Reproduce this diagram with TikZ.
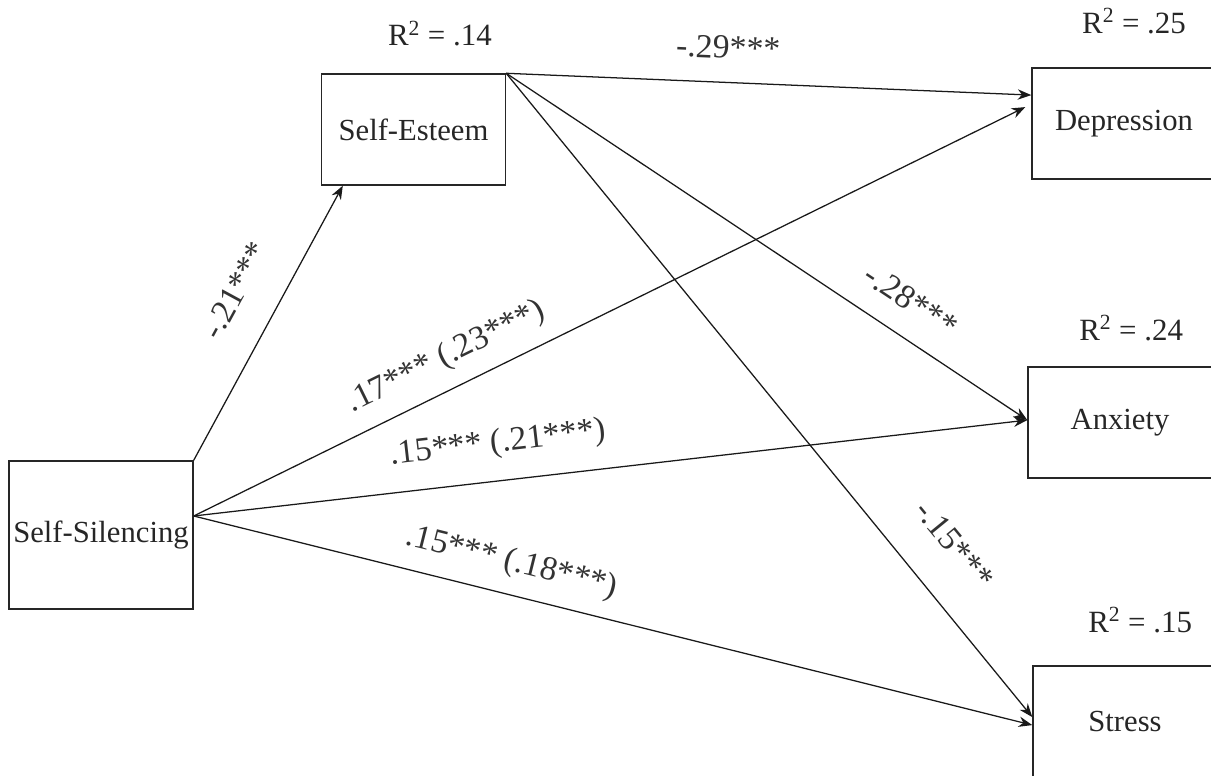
\documentclass[tikz,border=0pt]{standalone}
\usepackage{fontspec}
\setmainfont{Liberation Serif}
\usepackage{tikz}
\usetikzlibrary{arrows.meta, positioning, calc}

\begin{document}
\begin{tikzpicture}[
        var/.style={rectangle, draw=black!85, line width=1pt, minimum width=4.6cm, minimum height=2.775cm, inner sep=0pt, font=\fontsize{21.8}{26}\selectfont, text=black!85},
        link/.style={draw=black!90, line width=0.9pt, -{Stealth[length=3.4mm, width=2.6mm]}},
        coef/.style={sloped, inner sep=0pt, font=\fontsize{24}{28}\selectfont, text=black!80},
        rsq/.style={inner sep=0pt, font=\fontsize{22}{26}\selectfont, text=black!85}
    ]
        \useasboundingbox (0,0) rectangle (30.275,19.4);

        % Variables
        \node[var, minimum height=3.7cm] (sil) at (2.525, 6.025) {Self-Silencing};
        \node[var] (est) at (10.3375, 16.1625) {Self-Esteem};
        \node[var] (dep) at (28.1, 16.3125) {Depression};
        \node[var] (anx) at (28.0, 8.8375) {Anxiety};
        \node[var] (str) at (28.125, 1.3625) {Stress};

        % R squared
        \node[rsq, above=0.67cm of est, xshift=0.66cm] (r2est) {R\textsuperscript{2} = .14};
        \node[rsq, above=0.83cm of dep, xshift=0.25cm] (r2dep) {R\textsuperscript{2} = .25};
        \node[rsq, above=0.63cm of anx, xshift=0.28cm] (r2anx) {R\textsuperscript{2} = .24};
        \node[rsq, above=0.80cm of str, xshift=0.38cm] (r2str) {R\textsuperscript{2} = .15};

        % Paths
        \coordinate (src) at ([yshift=0.475cm]sil.east);

        \draw[link] (sil.north east) -- node[coef, pos=0.54, yshift=1.12cm] {-.21***} ([xshift=0.55cm]est.south west);

        \draw[link] (est.north east) -- node[coef, pos=0.42, yshift=0.875cm] {-.29***} ([yshift=0.71cm]dep.west);
        \draw[link] (est.north east) -- node[coef, pos=0.74, yshift=0.88cm] {-.28***} ([yshift=0.06cm]anx.west);
        \draw[link] (est.north east) -- node[coef, pos=0.78, yshift=1.22cm] {-.15***} ([yshift=0.11cm]str.west);

        \draw[link] (src) -- node[coef, pos=0.32, yshift=0.78cm] {.17*** (.23***)} ([xshift=-0.15cm, yshift=0.41cm]dep.west);
        \draw[link] (src) -- node[coef, pos=0.37, yshift=0.92cm] {.15*** (.21***)} ([yshift=0.06cm]anx.west);
        \draw[link] (src) -- node[coef, pos=0.37, yshift=0.79cm] {.15*** (.18***)} ([yshift=-0.09cm]str.west);

    \end{tikzpicture}
\end{document}
